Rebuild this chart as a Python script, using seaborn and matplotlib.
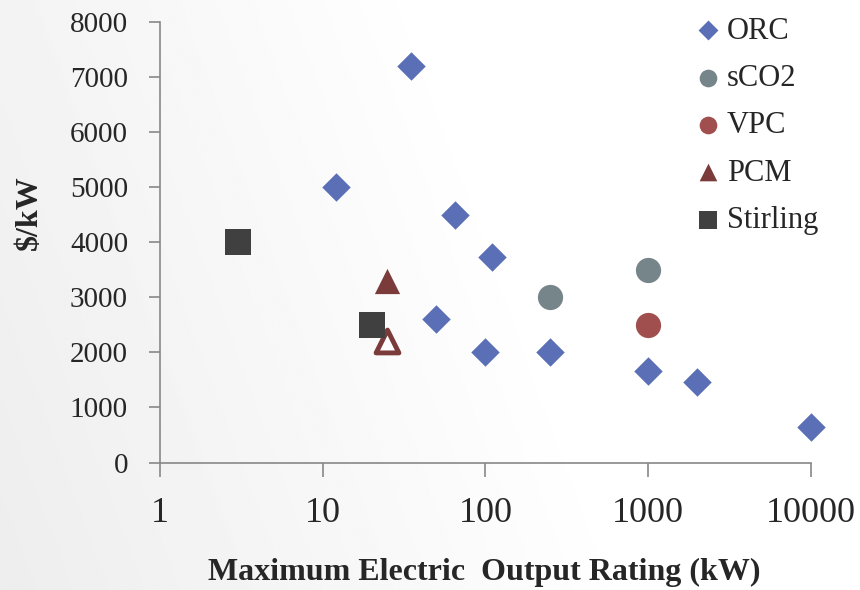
import numpy as np
import pandas as pd
import matplotlib
matplotlib.use("Agg")
import matplotlib.pyplot as plt
import seaborn as sns

# Data
orc_x = [35, 12, 65, 110, 50, 100, 250, 1000, 2000, 10000]
orc_y = [7200, 5000, 4500, 3730, 2600, 2000, 2000, 1670, 1470, 650]
sco2_x = [250, 1000]
sco2_y = [3000, 3500]
vpc_x = [1000]
vpc_y = [2500]
pcm_x = [25]
pcm_y = [3300]
pcm_open_x = [25]
pcm_open_y = [2200]
stirling_x = [3, 20]
stirling_y = [4000, 2500]

series = ["ORC", "sCO2", "VPC", "PCM", "Stirling"]
colors = {"ORC": "#5A6FB6", "sCO2": "#76858A", "VPC": "#A14F4E",
          "PCM": "#7B3B3B", "Stirling": "#404040"}
markers = {"ORC": "D", "sCO2": "o", "VPC": "o", "PCM": "^", "Stirling": "s"}
sizes = {"ORC": 210, "sCO2": 330, "VPC": 330, "PCM": 330, "Stirling": 350}

xticks = [1, 10, 100, 1000, 10000]
yticks = list(range(0, 8001, 1000))

rows = []
for name, xs, ys in [("ORC", orc_x, orc_y), ("sCO2", sco2_x, sco2_y),
                     ("VPC", vpc_x, vpc_y), ("PCM", pcm_x, pcm_y),
                     ("Stirling", stirling_x, stirling_y)]:
    for x, y in zip(xs, ys):
        rows.append({"x": x, "y": y, "series": name})
df = pd.DataFrame(rows)

sns.set_style("white")
plt.rcParams["font.family"] = ["Liberation Serif", "DejaVu Serif"]

fig = plt.figure(figsize=(8.6, 5.9), dpi=100)

# subtle background gradient
bg = fig.add_axes([0, 0, 1, 1], zorder=-10)
gx = np.linspace(0, 1, 300)
gy = np.linspace(0, 1, 200)
GX, GY = np.meshgrid(gx, gy)
t = np.clip((GX * 1.0 + (1 - GY) * 0.25) / 0.75, 0, 1)
vals = 0.93 + 0.07 * t
bg.imshow(vals, cmap="gray", vmin=0, vmax=1, aspect="auto", extent=[0, 1, 0, 1], origin="upper")
bg.axis("off")

ax = fig.add_axes([0.186, 0.216, 0.757, 0.747])
ax.patch.set_alpha(0)

for name in series:
    sub = df[df.series == name]
    sns.scatterplot(data=sub, x="x", y="y", ax=ax, marker=markers[name],
                    color=colors[name], s=sizes[name], linewidth=0,
                    label=name, zorder=3, clip_on=False)

sns.scatterplot(x=pcm_open_x, y=pcm_open_y, ax=ax, marker="^", s=270,
                facecolor="white", edgecolor=colors["PCM"], linewidth=3.5,
                zorder=2, clip_on=False)

ax.set_xscale("log")
ax.set_xlim(1, 10000)
ax.set_ylim(0, 8000)
ax.set_xticks(xticks)
ax.set_xticklabels([str(v) for v in xticks])
ax.minorticks_off()
ax.set_yticks(yticks)
ax.set_yticklabels([str(v) for v in yticks])

for s in ["top", "right"]:
    ax.spines[s].set_visible(False)
for s in ["left", "bottom"]:
    ax.spines[s].set_color("#888888")
    ax.spines[s].set_linewidth(1.2)

ax.tick_params(axis="x", direction="out", length=10, width=1.2, color="#888888",
               labelsize=26, pad=15, bottom=True)
ax.tick_params(axis="y", direction="out", length=8, width=1.2, color="#888888",
               labelsize=21, pad=15, left=True)

ax.set_xlabel("Maximum Electric  Output Rating (kW)", fontsize=23,
              fontweight="bold")
ax.xaxis.label.set_va("center")
ax.xaxis.set_label_coords(0.498, -0.25)
ax.set_ylabel("\\$/kW", fontsize=23, fontweight="bold")
ax.yaxis.label.set_va("center")
ax.yaxis.set_label_coords(-0.2, 0.566)

leg = ax.legend(loc="upper left", bbox_to_anchor=(0.806, 0.972),
                bbox_transform=fig.transFigure, frameon=False,
                fontsize=22, labelspacing=0.6, handletextpad=0.1,
                borderpad=0, borderaxespad=0,
                markerscale=0.7, handlelength=1.0)

fig.savefig("out.png", dpi=100)
